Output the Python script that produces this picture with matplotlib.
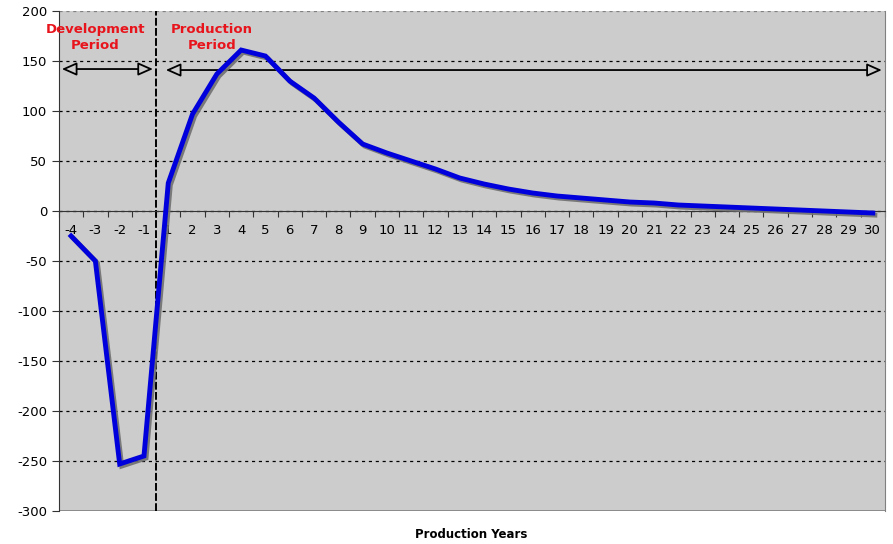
import matplotlib.pyplot as plt
import matplotlib.patheffects as pe
import numpy as np

plt.rcParams['axes.unicode_minus'] = False

years = [-4, -3, -2, -1] + list(range(1, 31))
cash = [-25, -50, -253, -245,
        28, 97, 137, 161, 155, 130, 113, 89, 67, 58,
        50, 42, 33, 27, 22, 18, 15, 13, 11, 9,
        8, 6, 5, 4, 3, 2, 1, 0, -1, -2]
yticks = list(range(-300, 201, 50))

fig = plt.figure(figsize=(8.93, 5.44), dpi=100)
ax = fig.add_axes([0.066, 0.0607, 0.925, 0.919])
ax.set_facecolor('#cccccc')

x = np.arange(len(years))
ax.set_xlim(-0.5, len(years) - 0.5)
ax.set_ylim(-300, 200)

# grid lines
for v in yticks[1:]:
    ax.axhline(v, color='#808080' if v == 200 else 'black', lw=0.9,
               ls=(0, (2.5, 3)), zorder=1)
ax.axhline(-300, color='#808080', lw=1.2, zorder=1)

# development / production divider
ax.axvline(3.5, color='black', lw=1.4, ls=(0, (4, 1.2)), zorder=2)

ax.plot(x, cash, color='#0000dd', lw=3.5, zorder=4, solid_joinstyle='miter',
        path_effects=[pe.SimpleLineShadow(offset=(1.5, -1.5), shadow_color='#707070', alpha=0.9),
                      pe.Normal()])

# arrows
ap = dict(arrowstyle='<|-|>,head_length=0.9,head_width=0.4', fc='#cccccc', ec='black', lw=1.3,
          shrinkA=0, shrinkB=0)
ax.annotate('', xy=(-0.38, 142), xytext=(3.37, 142), arrowprops=ap, zorder=3)
ax.annotate('', xy=(3.9, 141), xytext=(33.37, 141), arrowprops=ap, zorder=3)

ax.text(1.0, 174, 'Development\nPeriod', color='#e8141c', fontsize=9.5, fontweight='bold',
        ha='center', va='center', linespacing=1.3, zorder=5)
ax.text(5.8, 174, 'Production\nPeriod', color='#e8141c', fontsize=9.5, fontweight='bold',
        ha='center', va='center', linespacing=1.3, zorder=5)

# axes styling
ax.spines['top'].set_visible(False)
ax.spines['right'].set_color('#808080')
ax.spines['left'].set_color('#333333')
ax.spines['bottom'].set_position(('data', 0))
ax.spines['bottom'].set_color('#333333')
ax.spines['bottom'].set_zorder(3)

ax.set_yticks(yticks)
ax.tick_params(axis='y', length=5, labelsize=9.5, colors='#333333', labelcolor='black')
ax.set_xticks(np.arange(-0.5, len(years), 1))
ax.set_xticklabels([])
ax.set_xticks(x, minor=True)
ax.set_xticklabels([str(y) for y in years], minor=True)
ax.tick_params(axis='x', which='major', length=4, direction='out', colors='#333333')
ax.tick_params(axis='x', which='minor', length=0, labelsize=9.5, pad=9)

fig.text(0.528, 0.018, 'Production Years', ha='center', va='center',
         fontsize=8.5, fontweight='bold')

fig.savefig('out.png', dpi=100)
